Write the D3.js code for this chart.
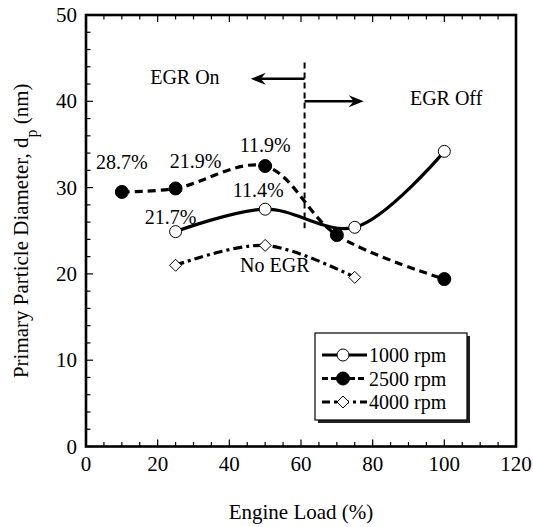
<!DOCTYPE html>
<html>
<head>
<meta charset="utf-8">
<script src="https://cdn.jsdelivr.net/npm/d3@7"></script>
<style>
  body { margin: 0; background: #fff; }
  svg { display: block; font-family: "Liberation Serif", "DejaVu Serif", serif; }
</style>
</head>
<body>
<svg id="chart"></svg>
<script>
// data
const loads1000 = [25, 50, 75, 100];
const dp1000 = [24.9, 27.5, 25.4, 34.2];
const loads2500 = [10, 25, 50, 70, 100];
const dp2500 = [29.5, 29.9, 32.5, 24.5, 19.4];
const loads4000 = [25, 50, 75];
const dp4000 = [21.0, 23.3, 19.6];
const egrRate2500 = ["28.7%", "21.9%", "11.9%"];
const egrRate1000 = ["21.7%", "11.4%"];
const xTicks = [0, 20, 40, 60, 80, 100, 120];
const yTicks = [0, 10, 20, 30, 40, 50];
const seriesNames = ["1000 rpm", "2500 rpm", "4000 rpm"];

// setting up svg
const w = 533, h = 527;
const m = { left: 86, right: 17, top: 15, bottom: 80.5 };
const svg = d3.select("#chart").attr("width", w).attr("height", h);
svg.append("rect").attr("width", w).attr("height", h).attr("fill", "#fff");

const x = d3.scaleLinear().domain([0, 120]).range([m.left, w - m.right]);
const y = d3.scaleLinear().domain([0, 50]).range([h - m.bottom, m.top]);

// ticks (inside)
const g = svg.append("g");
const xMinor = d3.range(0, 121, 5);
const yMinor = d3.range(0, 51, 2);
g.selectAll(".xb").data(xMinor).join("line")
  .attr("x1", d => x(d)).attr("x2", d => x(d))
  .attr("y1", y(0)).attr("y2", d => y(0) - (d % 20 === 0 ? 7 : 4.5))
  .attr("stroke", "#000").attr("stroke-width", 1.2);
g.selectAll(".xt").data(xMinor).join("line")
  .attr("x1", d => x(d)).attr("x2", d => x(d))
  .attr("y1", y(50)).attr("y2", d => y(50) + (d % 20 === 0 ? 7 : 4.5))
  .attr("stroke", "#000").attr("stroke-width", 1.2);
g.selectAll(".yl").data(yMinor).join("line")
  .attr("y1", d => y(d)).attr("y2", d => y(d))
  .attr("x1", x(0)).attr("x2", d => x(0) + (d % 10 === 0 ? 7 : 4.5))
  .attr("stroke", "#000").attr("stroke-width", 1.2);

// frame
svg.append("rect")
  .attr("x", x(0)).attr("y", y(50))
  .attr("width", x(120) - x(0)).attr("height", y(0) - y(50))
  .attr("fill", "none").attr("stroke", "#000").attr("stroke-width", 2.6);

// tick labels
svg.selectAll(".xl").data(xTicks).join("text")
  .attr("x", d => x(d)).attr("y", y(0) + 24)
  .attr("text-anchor", "middle").attr("font-size", 21)
  .text(d => d);
svg.selectAll(".ylab").data(yTicks).join("text")
  .attr("x", x(0) - 9).attr("y", d => y(d) + 7)
  .attr("text-anchor", "end").attr("font-size", 21)
  .text(d => d);

// axis titles
svg.append("text")
  .attr("x", x(60)).attr("y", 519)
  .attr("text-anchor", "middle").attr("font-size", 21)
  .text("Engine Load (%)");
const yt = svg.append("text")
  .attr("transform", `translate(28,${(y(0) + y(50)) / 2}) rotate(-90)`)
  .attr("text-anchor", "middle").attr("font-size", 21);
yt.append("tspan").text("Primary Particle Diameter, d");
yt.append("tspan").attr("dy", 9).attr("font-size", 16).text("p");
yt.append("tspan").attr("dy", -9).text(" (nm)");

// EGR on / off annotation
svg.append("line")
  .attr("x1", x(61)).attr("x2", x(61)).attr("y1", y(44.5)).attr("y2", y(25.3))
  .attr("stroke", "#000").attr("stroke-width", 2).attr("stroke-dasharray", "6,4");

function arrow(x0, x1, yv) {
  const dir = x1 > x0 ? 1 : -1;
  const tip = x(x1), yy = y(yv);
  svg.append("line")
    .attr("x1", x(x0)).attr("x2", tip - dir * 6).attr("y1", yy).attr("y2", yy)
    .attr("stroke", "#000").attr("stroke-width", 2.5);
  svg.append("path")
    .attr("d", `M${tip},${yy} L${tip - dir * 15},${yy - 6} L${tip - dir * 10},${yy} L${tip - dir * 15},${yy + 6} Z`)
    .attr("fill", "#000");
}
arrow(61, 46, 42.6);
arrow(61, 77.5, 40.0);

svg.append("text").attr("x", x(27.6)).attr("y", y(42.8) + 7)
  .attr("text-anchor", "middle").attr("font-size", 20).text("EGR On");
svg.append("text").attr("x", x(100.5)).attr("y", y(40.4) + 7)
  .attr("text-anchor", "middle").attr("font-size", 20).text("EGR Off");
svg.append("text").attr("x", x(52.7)).attr("y", y(21.0) + 7)
  .attr("text-anchor", "middle").attr("font-size", 20).text("No EGR");

// series
const styles = [
  { loads: loads1000, dp: dp1000, dash: null, marker: "open" },
  { loads: loads2500, dp: dp2500, dash: "8,5", marker: "filled" },
  { loads: loads4000, dp: dp4000, dash: "9,4,3,4", marker: "diamond" }
];
const line = d3.line().x(d => x(d[0])).y(d => y(d[1])).curve(d3.curveCatmullRom.alpha(0.5));

function marker(sel, type) {
  if (type === "diamond") {
    sel.append("path").attr("d", "M0,-6L6,0L0,6L-6,0Z")
      .attr("fill", "#fff").attr("stroke", "#000").attr("stroke-width", 1);
  } else {
    sel.append("circle").attr("r", type === "filled" ? 6.5 : 6)
      .attr("fill", type === "filled" ? "#000" : "#fff")
      .attr("stroke", "#000").attr("stroke-width", 1);
  }
}

styles.forEach(s => {
  const pts = s.loads.map((l, i) => [l, s.dp[i]]);
  svg.append("path").datum(pts).attr("d", line)
    .attr("fill", "none").attr("stroke", "#000").attr("stroke-width", 3.2)
    .attr("stroke-dasharray", s.dash);
  pts.forEach(p => {
    const mg = svg.append("g").attr("transform", `translate(${x(p[0])},${y(p[1])})`);
    marker(mg, s.marker);
  });
});

// EGR rate labels
const off2500 = [[0, -23], [20, -20], [0, -14]];
egrRate2500.forEach((t, i) => {
  svg.append("text")
    .attr("x", x(loads2500[i]) + off2500[i][0]).attr("y", y(dp2500[i]) + off2500[i][1])
    .attr("text-anchor", "middle").attr("font-size", 20).text(t);
});
const off1000 = [[-5, -8], [-7, -12]];
egrRate1000.forEach((t, i) => {
  svg.append("text")
    .attr("x", x(loads1000[i]) + off1000[i][0]).attr("y", y(dp1000[i]) + off1000[i][1])
    .attr("text-anchor", "middle").attr("font-size", 20).text(t);
});

// legend
const lg = svg.append("g").attr("transform", "translate(315,333)");
lg.append("rect").attr("x", 3).attr("y", 3).attr("width", 152).attr("height", 87).attr("fill", "#222");
lg.append("rect").attr("width", 152).attr("height", 87)
  .attr("fill", "#fff").attr("stroke", "#000").attr("stroke-width", 1.2);
seriesNames.forEach((name, i) => {
  const ry = 22 + i * 23.5;
  lg.append("line").attr("x1", 7).attr("x2", 52).attr("y1", ry).attr("y2", ry)
    .attr("stroke", "#000").attr("stroke-width", 3.2)
    .attr("stroke-dasharray", i === 0 ? null : (i === 1 ? "6,3" : "8,4,3,4"));
  const mg = lg.append("g").attr("transform", `translate(28,${ry})`);
  marker(mg, styles[i].marker);
  lg.append("text").attr("x", 54).attr("y", ry + 7).attr("font-size", 20).text(name);
});
</script>
</body>
</html>
